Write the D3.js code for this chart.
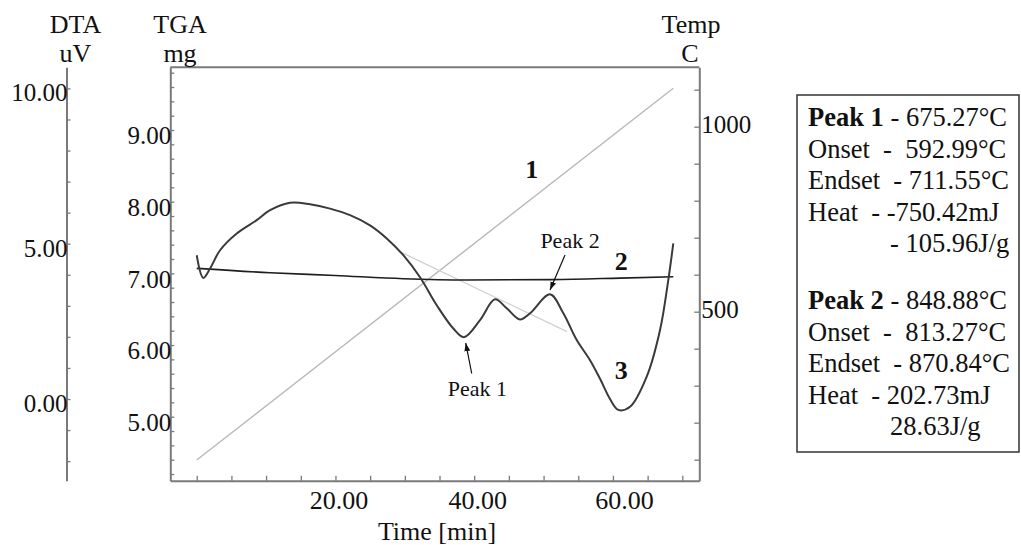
<!DOCTYPE html>
<html>
<head>
<meta charset="utf-8">
<script src="https://cdn.jsdelivr.net/npm/d3@7"></script>
<style>
  body { margin: 0; background: #fff; }
  svg text { font-family: "Liberation Serif", "Times New Roman", serif; fill: #111; }
</style>
</head>
<body>
<div id="app"></div>
<script>
// DTA curve (uV) vs time (min)
const dtaTime = [0, 0.95, 1.92, 3.36, 5.77, 8.65, 10.57, 13.45, 16.33, 19.22, 22.10, 24.98, 27.39, 29.78,
  32.19, 34.60, 36.99, 38.53, 40.84, 43.00, 44.69, 46.60, 48.05, 50.93, 52.85, 54.78, 56.70, 58.14, 59.58,
  60.78, 62.47, 64.87, 66.79, 67.98, 68.70];
const dtaValue = [4.63, 3.90, 4.20, 4.79, 5.33, 5.76, 6.08, 6.32, 6.27, 6.13, 5.92, 5.59, 5.17, 4.63,
  3.92, 3.02, 2.27, 1.99, 2.54, 3.21, 2.92, 2.56, 2.76, 3.37, 2.76, 1.90, 1.25, 0.65, 0.0,
  -0.35, -0.25, 0.72, 2.22, 3.83, 5.01];

// TGA curve (mg)
const tgaTime = [0, 10.57, 19.94, 29.74, 38.97, 51.36, 61.02, 68.70];
const tgaValue = [7.07, 7.008, 6.97, 6.925, 6.907, 6.913, 6.934, 6.953];

// Temperature programme (C)
const tempTime = [0, 68.70];
const tempValue = [99, 1104];

// DTA peak baseline
const baseTime = [29.31, 53.38];
const baseValue = [4.74, 2.17];

// peaks marked on the DTA curve
const peakNames = ['Peak 1', 'Peak 2'];
const peakTime = [38.53, 50.93];
const peakValue = [1.99, 3.37];

// curve numbers
const curveNames = ['1', '2', '3'];
const curveTime = [48.3, 61.2, 61.2];
const curveTemp = [885, null, null];
const curveTga = [null, 7.17, null];
const curveDta = [null, null, 0.93];

// ticks
const timeTicks = d3.range(0, 71, 5);
const timeLabels = [20, 40, 60];
const dtaTicks = d3.range(-2, 11, 1);
const dtaLabels = [0, 5, 10];
const tgaTicks = d3.range(4.2, 9.81, 0.2).map(d => +d.toFixed(1));
const tgaLabels = [5, 6, 7, 8, 9];
const tempTicks = d3.range(100, 1101, 100);
const tempLabels = [500, 1000];

// result box
const peak1Lines = [['Peak 1', ' - 675.27°C'], ['', 'Onset  -  592.99°C'], ['', 'Endset  - 711.55°C'],
  ['', 'Heat  - -750.42mJ'], ['', '- 105.96J/g']];
const peak2Lines = [['Peak 2', ' - 848.88°C'], ['', 'Onset  -  813.27°C'], ['', 'Endset  - 870.84°C'],
  ['', 'Heat  - 202.73mJ'], ['', '28.63J/g']];

const width = 1021;
const height = 545;
const plotLeft = 170.3, plotRight = 699.3, plotTop = 67.3, plotBottom = 480.7;
const dtaAxisX = 66.5;
const axisColor = '#7a7a7a';

const svg = d3.select('#app').append('svg')
  .attr('width', width)
  .attr('height', height)
  .style('display', 'block');

svg.append('rect').attr('width', width).attr('height', height).attr('fill', '#fff');

const x = d3.scaleLinear().domain([-3.81, 72.45]).range([plotLeft, plotRight]);
const yDta = d3.scaleLinear().domain([-2.63, 10.68]).range([plotBottom, plotTop]);
const yTga = d3.scaleLinear().domain([4.107, 9.875]).range([plotBottom, plotTop]);
const yTemp = d3.scaleLinear().domain([43.2, 1160.5]).range([plotBottom, plotTop]);

const styleAxis = (g, fontSize) => {
  g.select('.domain').attr('stroke', axisColor).attr('stroke-width', 2);
  g.selectAll('.tick line').attr('stroke', axisColor).attr('stroke-width', 1.3);
  g.selectAll('.tick text')
    .style('font-family', '"Liberation Serif", "Times New Roman", serif')
    .style('font-size', fontSize + 'px')
    .attr('fill', '#111');
};

// DTA axis (far left)
const dtaAxis = d3.axisRight(yDta).tickValues(dtaTicks).tickSize(4).tickSizeOuter(0)
  .tickFormat(d => dtaLabels.includes(d) ? d.toFixed(2) : '');
svg.append('g')
  .attr('transform', `translate(${dtaAxisX}, 0)`)
  .call(dtaAxis)
  .call(g => styleAxis(g, 25))
  .call(g => g.selectAll('.tick text').attr('x', 1).attr('dy', '0.5em').attr('text-anchor', 'end'));

// TGA axis (left side of frame)
const tgaAxis = d3.axisRight(yTga).tickValues(tgaTicks).tickSize(4).tickSizeOuter(0)
  .tickFormat(d => tgaLabels.includes(d) ? d.toFixed(2) : '');
svg.append('g')
  .attr('transform', `translate(${plotLeft}, 0)`)
  .call(tgaAxis)
  .call(g => styleAxis(g, 25))
  .call(g => g.selectAll('.tick text').attr('x', 1).attr('dy', '0.55em').attr('text-anchor', 'end'));

// Temp axis (right side of frame)
const tempAxis = d3.axisLeft(yTemp).tickValues(tempTicks).tickSize(5).tickSizeOuter(0)
  .tickFormat(d => tempLabels.includes(d) ? d : '');
svg.append('g')
  .attr('transform', `translate(${plotRight}, 0)`)
  .call(tempAxis)
  .call(g => styleAxis(g, 25))
  .call(g => g.selectAll('.tick text').attr('x', 2).attr('dy', '0.25em').attr('text-anchor', 'start'));

// Time axis (bottom); the 60.00 label sits a little right of its tick in the original
const timeAxis = d3.axisTop(x).tickValues(timeTicks).tickSize(5).tickSizeOuter(0)
  .tickFormat(d => timeLabels.includes(d) ? d.toFixed(2) : '');
svg.append('g')
  .attr('transform', `translate(0, ${plotBottom})`)
  .call(timeAxis)
  .call(g => styleAxis(g, 26))
  .call(g => g.selectAll('.tick text').attr('y', 28).attr('dy', 0).attr('dx', d => d === 60 ? 11 : 3));

// top edge of the frame
svg.append('line')
  .attr('x1', plotLeft).attr('x2', plotRight).attr('y1', plotTop).attr('y2', plotTop)
  .attr('stroke', axisColor).attr('stroke-width', 2);

// axis titles
const title = (txt, tx, ty, size) => svg.append('text')
  .attr('x', tx).attr('y', ty).attr('text-anchor', 'middle')
  .style('font-size', size + 'px').text(txt);
title('DTA', 75.5, 33, 26);
title('uV', 75.5, 62, 26);
title('TGA', 180, 33, 26);
title('mg', 180, 62, 26);
title('Temp', 691, 33, 26);
title('C', 690, 62, 26);
title('Time [min]', 437, 540, 26);

// temperature line
const zip = (a, b) => a.map((d, i) => [d, b[i]]);

svg.append('path')
  .datum(zip(tempTime, tempValue))
  .attr('fill', 'none').attr('stroke', '#b8b8b8').attr('stroke-width', 1.4)
  .attr('d', d3.line().x(d => x(d[0])).y(d => yTemp(d[1])));

// DTA peak baseline
svg.append('path')
  .datum(zip(baseTime, baseValue))
  .attr('fill', 'none').attr('stroke', '#cfcfcf').attr('stroke-width', 1.3)
  .attr('d', d3.line().x(d => x(d[0])).y(d => yDta(d[1])));

// TGA line
svg.append('path')
  .datum(zip(tgaTime, tgaValue))
  .attr('fill', 'none').attr('stroke', '#1e1e1e').attr('stroke-width', 1.6)
  .attr('d', d3.line().curve(d3.curveMonotoneX).x(d => x(d[0])).y(d => yTga(d[1])));

// DTA curve
svg.append('path')
  .datum(zip(dtaTime, dtaValue))
  .attr('fill', 'none').attr('stroke', '#3a3a3a').attr('stroke-width', 2)
  .attr('stroke-linejoin', 'round')
  .attr('d', d3.line().curve(d3.curveCatmullRom.alpha(0.5)).x(d => x(d[0])).y(d => yDta(d[1])));

// curve numbers
curveNames.forEach((n, i) => {
  let cy;
  if (curveTemp[i] != null) cy = yTemp(curveTemp[i]);
  else if (curveTga[i] != null) cy = yTga(curveTga[i]);
  else cy = yDta(curveDta[i]);
  svg.append('text')
    .attr('x', x(curveTime[i])).attr('y', cy)
    .attr('text-anchor', 'middle').attr('dominant-baseline', 'central')
    .style('font-size', '26px').style('font-weight', 'bold')
    .text(n);
});

// peak annotations
svg.append('defs').append('marker')
  .attr('id', 'arrow').attr('viewBox', '0 0 10 10')
  .attr('refX', 10).attr('refY', 5)
  .attr('markerWidth', 7).attr('markerHeight', 7)
  .attr('orient', 'auto-start-reverse')
  .append('path').attr('d', 'M0,1.5 L10,5 L0,8.5 Z').attr('fill', '#111');

const peakLayout = [
  { tip: [1.7, 5.7], from: [7.7, 36.3], label: [13.5, 51] },
  { tip: [0, -4.3], from: [15, -39.3], label: [20, -54] }
];
peakNames.forEach((name, i) => {
  const px = x(peakTime[i]);
  const py = yDta(peakValue[i]);
  const L = peakLayout[i];
  svg.append('line')
    .attr('x1', px + L.from[0]).attr('y1', py + L.from[1])
    .attr('x2', px + L.tip[0]).attr('y2', py + L.tip[1])
    .attr('stroke', '#111').attr('stroke-width', 1.2)
    .attr('marker-end', 'url(#arrow)');
  svg.append('text')
    .attr('x', px + L.label[0]).attr('y', py + L.label[1])
    .attr('text-anchor', 'middle').attr('dominant-baseline', 'central')
    .style('font-size', '22px')
    .text(name);
});

// result box
const box = svg.append('g');
box.append('rect')
  .attr('x', 797).attr('y', 95).attr('width', 222).attr('height', 357)
  .attr('fill', '#fff').attr('stroke', '#333').attr('stroke-width', 1.5);

const writeLines = (lines, y0) => {
  lines.forEach((ln, i) => {
    const isIndented = ln[0] === '' && i === lines.length - 1;
    const t = box.append('text')
      .attr('x', isIndented ? 890 : 808)
      .attr('y', y0 + i * 31.5)
      .attr('dominant-baseline', 'central')
      .style('font-size', '26.5px')
      .style('white-space', 'pre');
    if (ln[0]) t.append('tspan').style('font-weight', 'bold').text(ln[0]);
    t.append('tspan').text(ln[1]);
  });
};
writeLines(peak1Lines, 117);
writeLines(peak2Lines, 300);
</script>
</body>
</html>
